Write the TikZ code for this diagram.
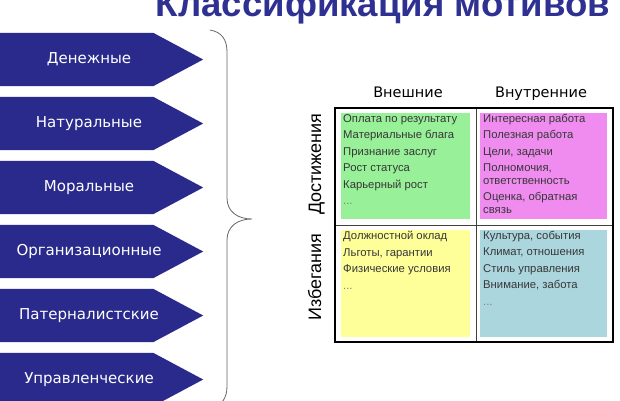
\documentclass[tikz,border=0pt]{standalone}
\usepackage{fontspec}
\setmainfont{Liberation Sans}
\newfontfamily\handfont{DejaVu Sans}
\usetikzlibrary{positioning,backgrounds}

\definecolor{motivblue}{RGB}{42,42,140}
\definecolor{titleblue}{RGB}{46,49,146}
\definecolor{cellgreen}{RGB}{152,240,152}
\definecolor{cellpink}{RGB}{240,140,240}
\definecolor{cellyellow}{RGB}{255,255,153}
\definecolor{cellblue}{RGB}{172,214,222}
\definecolor{itemgray}{RGB}{55,55,55}

\begin{document}
\begin{tikzpicture}[x=1pt,y=-1pt,node distance=64pt,
	motiv/.style={minimum width=178pt,minimum height=53pt,inner sep=0pt,text=white,font=\handfont\fontsize{15}{18}\selectfont},
	head/.style={anchor=base,font=\handfont\fontsize{14.5}{18}\selectfont},
	rowlab/.style={rotate=90,anchor=base,font=\fontsize{18}{20}\selectfont},
	cell/.style={minimum width=129pt,minimum height=106pt,inner sep=0pt,anchor=north west},
	items/.style={anchor=north west,inner sep=0pt,align=left,text=itemgray,font=\fontsize{11.3}{12.5}\selectfont}]

\useasboundingbox (0,0) rectangle (620,400);

\node[anchor=base,text=titleblue,font=\bfseries\fontsize{36.6}{40}\selectfont] (title) at (383,16) {Классификация мотивов};

% motives
\node[motiv]   (den) at (89,59.5)      {Денежные};
\node[motiv]   (nat) [below of=den]    {Натуральные};
\node[motiv]   (mor) [below of=nat]    {Моральные};
\node[motiv]   (org) [below of=mor]    {Организационные};
\node[motiv]   (pat) [below of=org]    {Патерналистские};
\node[motiv]   (upr) [below of=pat]    {Управленческие};

\begin{scope}[on background layer]
	\foreach \m in {den,nat,mor,org,pat,upr}
		\fill[motivblue] (\m.north west) -- ([xshift=-25pt]\m.north east) -- ([xshift=25pt]\m.east)
			-- ([xshift=-25pt]\m.south east) -- (\m.south west) -- cycle;
\end{scope}

% brace
\draw[gray!80!black,line width=0.8pt] (210,30) .. controls (222,32) and (227,40) .. (227,52) -- (227,198)
	.. controls (227,212) and (238,219) .. (252,219) .. controls (238,219) and (227,226) .. (227,240)
	-- (227,386) .. controls (227,398) and (222,406) .. (210,408);

% matrix
\node[cell,fill=cellgreen]                      (achext) at (341,113) {};
\node[cell,fill=cellpink,minimum width=127pt]   (achint) at (480,113) {};
\node[cell,fill=cellyellow,minimum height=107pt] (avoext) at (341,230) {};
\node[cell,fill=cellblue,minimum width=127pt,minimum height=107pt] (avoint) at (480,230) {};

\draw[black!75,line width=1pt] (476,108) -- (476,342) (335,225) -- (613,225);
\draw[black,line width=2.2pt] (335,108) rectangle (613,342);

\node[head] (ext) at (408,97) {Внешние};
\node[head] (int) at (541,97) {Внутренние};
\node[rowlab] (ach) at (321,164) {Достижения};
\node[rowlab] (avo) at (321,277) {Избегания};

\node[items] at ([shift={(2,1)}]achext.north west)
	{Оплата по результату\\[4pt]Материальные блага\\[4pt]Признание заслуг\\[4pt]Рост статуса\\[4pt]Карьерный рост\\[4pt]\textcolor{gray}{...}};
\node[items] at ([shift={(3,1)}]achint.north west)
	{Интересная работа\\[4pt]Полезная работа\\[4pt]Цели, задачи\\[4pt]Полномочия,\\ответственность\\[4pt]Оценка, обратная\\связь};
\node[items] at ([shift={(2,1)}]avoext.north west)
	{Должностной оклад\\[4pt]Льготы, гарантии\\[4pt]Физические условия\\[4pt]\textcolor{gray}{...}};
\node[items] at ([shift={(3,1)}]avoint.north west)
	{Культура, события\\[4pt]Климат, отношения\\[4pt]Стиль управления\\[4pt]Внимание, забота\\[4pt]\textcolor{gray}{...}};

\end{tikzpicture}
\end{document}
